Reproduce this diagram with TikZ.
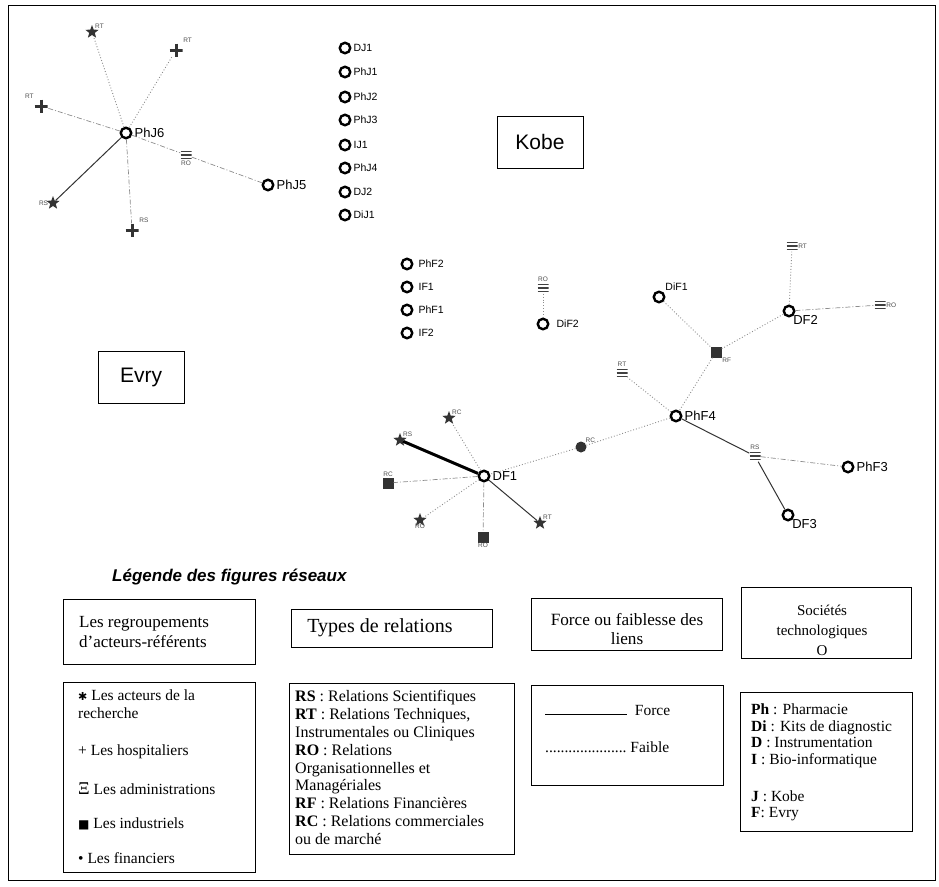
\documentclass[tikz,border=0pt]{standalone}
\usepackage{fontspec}
\setmainfont{Liberation Serif}
\setsansfont{Liberation Sans}
\newfontfamily\symbfont{DejaVu Sans}
\usetikzlibrary{shapes.geometric,positioning}

\begin{document}
\begin{tikzpicture}[x=1pt,y=-1pt]
  \tikzset{firme/.style = {shape=circle,draw,line width=2.4pt,minimum size=10.5pt,inner sep=0pt}}
  \tikzset{chercheur/.style = {shape=star,star points=5,star point ratio=2.4,fill=black!80,minimum size=14pt,inner sep=0pt}}
  \tikzset{hospitalier/.style = {minimum size=13pt,inner sep=0pt,
      path picture={\draw[line width=3pt,black!80] (path picture bounding box.north) -- (path picture bounding box.south)
        (path picture bounding box.west) -- (path picture bounding box.east);}}}
  \tikzset{admin/.style = {minimum width=11pt,minimum height=11pt,inner sep=0pt,
      path picture={\foreach \d in {-3.5,0,3.5}
        \draw[line width=1.8pt,black!75] ([yshift=\d pt]path picture bounding box.west) -- ([yshift=\d pt]path picture bounding box.east);}}}
  \tikzset{industriel/.style = {shape=rectangle,fill=black!80,minimum size=11pt,inner sep=0pt}}
  \tikzset{financier/.style = {shape=circle,fill=black!80,minimum size=11pt,inner sep=0pt}}
  \tikzset{nom/.style = {font=\sffamily\fontsize{13}{15}\selectfont,inner sep=1pt,label distance=1pt}}
  \tikzset{liste/.style = {font=\sffamily\fontsize{10.5}{12}\selectfont,inner sep=1pt,label distance=1pt}}
  \tikzset{rel/.style = {font=\sffamily\fontsize{6.5}{7}\selectfont,text=black!70,inner sep=0.5pt,label distance=0pt}}
  \tikzset{faible/.style = {draw=black!45,dotted,line width=0.9pt}}
  \tikzset{mixte/.style = {draw=black!45,dash pattern=on 5pt off 2pt on 1pt off 2pt,line width=0.7pt}}
  \tikzset{force/.style = {draw=black!80,line width=1pt}}
  \tikzset{tresforce/.style = {draw=black,line width=3pt}}
  \tikzset{ville/.style = {draw,line width=0.8pt,font=\sffamily\fontsize{21}{24}\selectfont,minimum width=86pt,minimum height=52pt}}
  \tikzset{cadre/.style = {draw,line width=0.8pt,inner sep=0pt}}
  \tikzset{texte/.style = {font=\fontsize{15.5}{17.8}\selectfont,align=left,anchor=north west,inner sep=0pt}}

  \useasboundingbox (0,0) rectangle (939,886);
  \draw[line width=1pt] (8,5) rectangle (935,880);

  % Kobe
  \node[firme,label={[nom]right:PhJ6}] (PhJ6) at (126,133) {};
  \node[firme,label={[nom]right:PhJ5}] (PhJ5) at (268,185) {};
  \node[chercheur,label={[rel]above right:RT}] (sRTa) at (92,32) {};
  \node[hospitalier,label={[rel]above right:RT}] (pRTa) at (176,50) {};
  \node[hospitalier,label={[rel]above left:RT}] (pRTb) at (41,106) {};
  \node[chercheur,label={[rel]left:RS}] (sRSa) at (53,203) {};
  \node[hospitalier,label={[rel]above right:RS}] (pRSa) at (132,230) {};
  \node[admin,label={[rel]below:RO}] (aROa) at (186,155) {};

  \foreach \n/\y in {DJ1/48,PhJ1/72,PhJ2/97,PhJ3/120,IJ1/145,PhJ4/168,DJ2/192,DiJ1/215}
    \node[firme,label={[liste]right:\n}] (\n) at (345,\y) {};

  \node[ville] (kobe) at (540,142) {Kobe};

  \foreach \from/\to in {PhJ6/sRTa, PhJ6/pRTa}
    \path[faible] (\from) edge (\to);
  \foreach \from/\to in {PhJ6/pRTb, PhJ6/pRSa, PhJ6/aROa, aROa/PhJ5}
    \path[mixte] (\from) edge (\to);
  \path[force] (PhJ6) edge (sRSa);

  % Evry
  \node[ville] (evry) at (141,377) {Evry};

  \foreach \n/\y in {PhF2/264,IF1/287,PhF1/310,IF2/333}
    \node[firme,label={[liste,label distance=4pt]right:\n}] (\n) at (407,\y) {};

  \node[admin,label={[rel]above:RO}] (aROb) at (543,288) {};
  \node[firme,label={[liste,label distance=6pt]right:DiF2}] (DiF2) at (543,324) {};
  \node[firme,label={[liste]above right:DiF1}] (DiF1) at (659,297) {};
  \node[industriel,label={[rel]below right:RF}] (qRF) at (716,352) {};
  \node[firme,label={[nom,label distance=-2pt]below right:DF2}] (DF2) at (789,311) {};
  \node[admin,label={[rel]right:RT}] (aRTa) at (792,246) {};
  \node[admin,label={[rel]right:RO}] (aROc) at (880,305) {};
  \node[admin,label={[rel]above:RT}] (aRTb) at (622,373) {};
  \node[firme,label={[nom]right:PhF4}] (PhF4) at (676,416) {};
  \node[financier,label={[rel]above right:RC}] (dRC) at (581,447) {};
  \node[admin,label={[rel]above:RS}] (aRS) at (755,456) {};
  \node[firme,label={[nom]right:PhF3}] (PhF3) at (848,467) {};
  \node[firme,label={[nom,label distance=-2pt]below right:DF3}] (DF3) at (788,515) {};
  \node[firme,label={[nom]right:DF1}] (DF1) at (484,476) {};
  \node[chercheur,label={[rel]above right:RS}] (sRSb) at (400,440) {};
  \node[chercheur,label={[rel]above right:RC}] (sRC) at (449,418) {};
  \node[industriel,label={[rel]above:RC}] (qRC) at (388,483) {};
  \node[chercheur,label={[rel]below:RO}] (sRO) at (420,520) {};
  \node[industriel,label={[rel]below:RO}] (qRO) at (483,537) {};
  \node[chercheur,label={[rel]above right:RT}] (sRTb) at (540,523) {};

  \foreach \from/\to in {aROb/DiF2, DiF1/qRF, qRF/DF2, qRF/PhF4, DF2/aRTa, PhF4/aRTb, PhF4/dRC, dRC/DF1, DF1/sRC, DF1/sRO}
    \path[faible] (\from) edge (\to);
  \foreach \from/\to in {DF2/aROc, aRS/PhF3, DF1/qRC, DF1/qRO}
    \path[mixte] (\from) edge (\to);
  \foreach \from/\to in {PhF4/aRS, aRS/DF3, DF1/sRTb}
    \path[force] (\from) edge (\to);
  \path[tresforce] (DF1) edge (sRSb);

  % legende
  \node[font=\sffamily\bfseries\itshape\fontsize{17}{20}\selectfont,anchor=west,inner sep=0pt] (titre) at (112,577) {Légende des figures réseaux};

  \node[cadre,minimum width=192pt,minimum height=65pt] (groupes) at (159,632) {};
  \node[cadre,minimum width=201pt,minimum height=38pt] (types) at (392,628) {};
  \node[cadre,minimum width=191pt,minimum height=52pt] (liens) at (627,624) {};
  \node[cadre,minimum width=170pt,minimum height=71pt] (societes) at (826,623) {};

  \node[texte,font=\fontsize{17}{20}\selectfont,anchor=west] (tGroupes) at (79,632) {Les regroupements\\d'acteurs-référents};
  \node[texte,font=\fontsize{20}{22}\selectfont,anchor=center] (tTypes) at (380,628) {Types de relations};
  \node[texte,font=\fontsize{17.2}{18.5}\selectfont,align=center,anchor=center] (tLiens) at (627,629) {Force ou faiblesse des\\liens};
  \node[texte,font=\fontsize{15}{20}\selectfont,align=center,anchor=center] (tSocietes) at (822,630) {Sociétés\\technologiques\\O};

  \node[cadre,minimum width=192pt,minimum height=190pt] (cActeurs) at (159,777) {};
  \node[cadre,minimum width=225pt,minimum height=171pt] (cRelations) at (402,769) {};
  \node[cadre,minimum width=192pt,minimum height=100pt] (cLiens) at (627,735) {};
  \node[cadre,minimum width=172pt,minimum height=139pt] (cSocietes) at (826,762) {};

  \node[texte] (tActeurs) at (78,690) {{\symbfont\fontsize{11}{12}\selectfont ✱} Les acteurs de la\\recherche};
  \node[texte,anchor=west] (tHosp) at (78,752) {+ Les hospitaliers};
  \node[texte,anchor=west] (tAdmin) at (78,789) {{\fontsize{18}{18}\selectfont Ξ} Les administrations};
  \node[texte,anchor=west] (tIndus) at (78,824) {{\symbfont\fontsize{12}{12}\selectfont ■} Les industriels};
  \node[texte,anchor=west] (tFin) at (78,858) {• Les financiers};

  \node[texte,font=\fontsize{16}{17.9}\selectfont] (tRelations) at (295,690) {\textbf{RS} : Relations Scientifiques\\
    \textbf{RT} : Relations Techniques,\\Instrumentales ou Cliniques\\
    \textbf{RO} : Relations\\Organisationnelles et\\Managériales\\
    \textbf{RF} : Relations Financières\\
    \textbf{RC} : Relations commerciales\\ou de marché};

  \node[texte,anchor=west] (tForce) at (545,710) {\rule[0pt]{82pt}{0.6pt}\ \ Force};
  \node[texte,anchor=west] (tFaible) at (545,747) {.....................\ Faible};

  \node[texte,font=\fontsize{15.5}{16.4}\selectfont] (tCodes) at (751,704) {\textbf{Ph} : Pharmacie\\
    \textbf{Di} : Kits de diagnostic\\
    \textbf{D} : Instrumentation\\
    \textbf{I} : Bio-informatique\\[21pt]
    \textbf{J} : Kobe\\
    \textbf{F}: Evry};
\end{tikzpicture}
\end{document}
